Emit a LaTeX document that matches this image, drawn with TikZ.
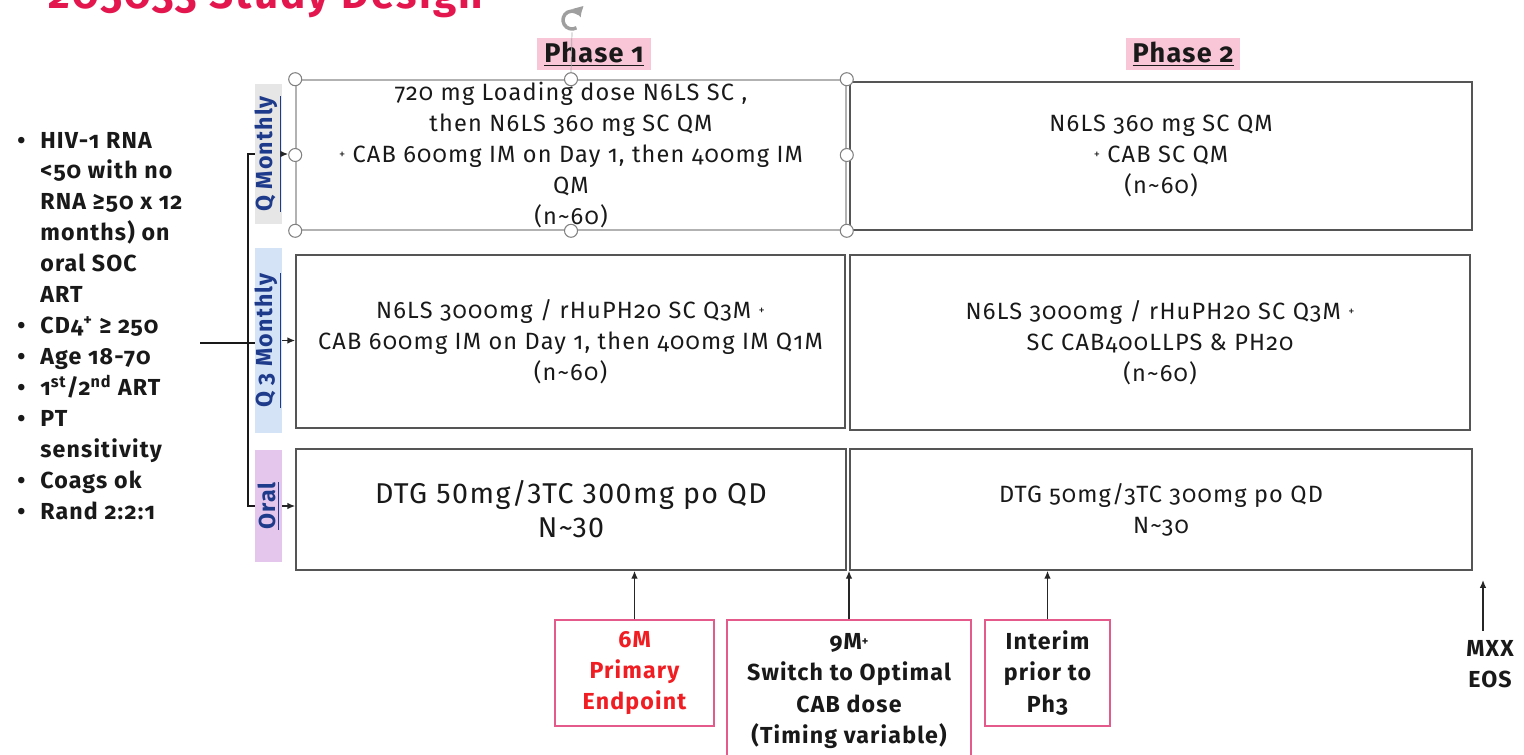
\documentclass[tikz,border=0pt]{standalone}
\usepackage{fontspec}
\setmainfont{Fira Sans}[Numbers=OldStyle,LetterSpace=5]
\newfontfamily\liningfont{Fira Sans}[Numbers=Lining,LetterSpace=5]
\usetikzlibrary{arrows.meta,positioning}
\definecolor{titlered}{HTML}{E4164E}
\definecolor{phasepink}{HTML}{F8C6D6}
\definecolor{qmgray}{HTML}{E6E6E6}
\definecolor{qthreeblue}{HTML}{D5E3F6}
\definecolor{oralpurple}{HTML}{E4C6EC}
\definecolor{armnavy}{HTML}{1E3A8A}
\definecolor{calloutpink}{HTML}{E45B8B}
\definecolor{endred}{HTML}{F01E23}
\definecolor{boxgray}{HTML}{555555}
\newcommand{\pl}{\raisebox{0.35ex}{\scriptsize+}}
\newcommand{\pxu}{0.02cm}
\newcommand{\bul}{\makebox[0.46cm][l]{\textbullet}}
\newcommand{\ind}{\hspace*{0.46cm}}

\begin{document}
\begin{tikzpicture}[
  x=0.02cm, y=-0.02cm,
  every node/.style={inner sep=0pt,text=black!90,font=\fontsize{13.4}{17.6}\selectfont},
  arm/.style={draw=boxgray,line width=0.9pt,fill=white,align=center},
  armlabel/.style={rotate=90,minimum height=27*\pxu,text=armnavy,font=\fontsize{13.2}{14}\selectfont\bfseries},
  phase/.style={fill=phasepink,minimum width=114*\pxu,minimum height=32*\pxu,font=\fontsize{15.4}{18}\selectfont\bfseries},
  callout/.style={draw=calloutpink,line width=0.8pt,align=center,font=\fontsize{13.2}{17.8}\selectfont\bfseries},
  handle/.style={circle,draw=gray,fill=white,line width=0.6pt,minimum size=13*\pxu},
  arrow/.style={-{Latex[length=4.5pt,width=3.8pt]},line width=0.8pt,draw=black!85},
  bracket/.style={line width=1.1pt,draw=black!90}
]
\useasboundingbox (0,0) rectangle (1524,754);
% title, cut off at the top edge
\node[anchor=base west,text=titlered,font=\fontsize{24}{28}\selectfont\bfseries] (title) at (48,8) {205033 Study Design};
\node[phase] (ph1) at (594,54) {\underline{Phase 1}};
\node[phase] (ph2) at (1183,54) {\underline{Phase 2}};
% phase 1 arms
\node[arm,draw=gray!60,minimum width=550*\pxu,minimum height=150*\pxu] (p1qm) at (571,155)
  {720 mg Loading dose N6LS SC ,\\then N6LS 360 mg SC QM\\\pl\ CAB 600mg IM on Day 1, then 400mg IM\\QM\\(n\textasciitilde60)};
\node[arm,minimum width=549*\pxu,minimum height=173*\pxu] (p1qthree) at (570.5,341.5)
  {N6LS 3000mg / rHuPH20 SC Q3M \pl\\CAB 600mg IM on Day 1, then 400mg IM Q1M\\(n\textasciitilde60)};
\node[arm,minimum width=550*\pxu,minimum height=121*\pxu,font=\liningfont\fontsize{16.3}{19.3}\selectfont] (p1oral) at (571,509.5)
  {DTG 50mg/3TC 300mg po QD\\N\textasciitilde30};
% phase 2 arms
\node[arm,minimum width=622*\pxu,minimum height=148*\pxu] (p2qm) at (1161,156)
  {N6LS 360 mg SC QM\\\pl\ CAB SC QM\\(n\textasciitilde60)};
\node[arm,minimum width=620*\pxu,minimum height=175*\pxu] (p2qthree) at (1160,342.5)
  {N6LS 3000mg / rHuPH20 SC Q3M \pl\\SC CAB400LLPS \& PH20\\(n\textasciitilde60)};
\node[arm,minimum width=622*\pxu,minimum height=121*\pxu] (p2oral) at (1161,509.5)
  {DTG 50mg/3TC 300mg po QD\\N\textasciitilde30};
% arm labels
\node[armlabel,fill=qmgray,minimum width=140*\pxu] (lqm) at (268.5,154) {\underline{Q Monthly}};
\node[armlabel,fill=qthreeblue,minimum width=185*\pxu] (lqthree) at (268.5,340.5) {\underline{Q 3 Monthly}};
\node[armlabel,fill=oralpurple,minimum width=112*\pxu] (loral) at (268.5,506) {\underline{Oral}};
% inclusion criteria
\node[anchor=north west,font=\fontsize{13.2}{17.6}\selectfont\bfseries] (criteria) at (17,126) {%
  \begin{tabular}{@{}l@{}}
  \bul HIV-1 RNA\\ \ind <50 with no\\ \ind RNA ≥50 x 12\\ \ind months) on\\ \ind oral SOC\\ \ind ART\\
  \bul CD4\textsuperscript{+} ≥ 250\\ \bul Age 18-70\\ \bul 1\textsuperscript{st}/2\textsuperscript{nd} ART\\
  \bul PT\\ \ind sensitivity\\ \bul Coags ok\\ \bul Rand 2:2:1
  \end{tabular}};
% randomisation bracket
\coordinate (split) at (248,343);
\coordinate (feed) at (200,343);
\draw[bracket,line width=1.6pt] (feed) -- (split);
\draw[bracket] (lqm.north) -- (lqm.north -| split) -- (loral.north -| split) -- (loral.north);
\draw[bracket] (split) -- (split -| lqthree.north);
% selection handles of the first box
\foreach \a in {north west,north,north east,west,east,south west,south,south east}
  \node[handle] (h-\a) at (p1qm.\a) {};
\draw[arrow] (lqm.south) -- (lqm.south -| h-west.west);
\draw[arrow] (lqthree.south) -- (lqthree.south -| p1qthree.west);
\draw[arrow] (loral.south) -- (loral.south -| p1oral.west);
\node[circle,minimum size=24*\pxu] (rot) at (572,20) {};
\begin{scope}[shift={(rot.center)},x=0.02cm,y=0.02cm]
  \draw[gray!75,line width=2pt,-{Latex[length=6pt,width=7pt]}] (-60:9) arc[start angle=-60,end angle=-345,radius=9];
\end{scope}
\draw[gray!70,line width=0.4pt] (rot.south) -- (h-north.north);
% milestones
\node[callout,minimum width=159*\pxu,minimum height=106*\pxu,text=endred] (sixm) at (634.5,673) {6M\\Primary\\Endpoint};
\node[callout,minimum width=244*\pxu,minimum height=142*\pxu] (ninem) at (849,691) {9M\pl\\Switch to Optimal\\CAB dose\\(Timing variable)};
\node[callout,minimum width=125*\pxu,minimum height=106*\pxu] (interim) at (1047.5,673) {Interim\\prior to\\Ph3};
\node[align=center,font=\fontsize{13.2}{17.8}\selectfont\bfseries] (eos) at (1490,664) {MXX\\EOS};
\coordinate (eostip) at (1483,580);
\draw[arrow] (sixm.north) -- (sixm.north |- p1oral.south);
\draw[arrow] (ninem.north) -- (ninem.north |- p1oral.south);
\draw[arrow] (interim.north) -- (interim.north |- p2oral.south);
\draw[arrow,shorten <=9*\pxu] (eos.north -| eostip) -- (eostip);
\end{tikzpicture}
\end{document}
